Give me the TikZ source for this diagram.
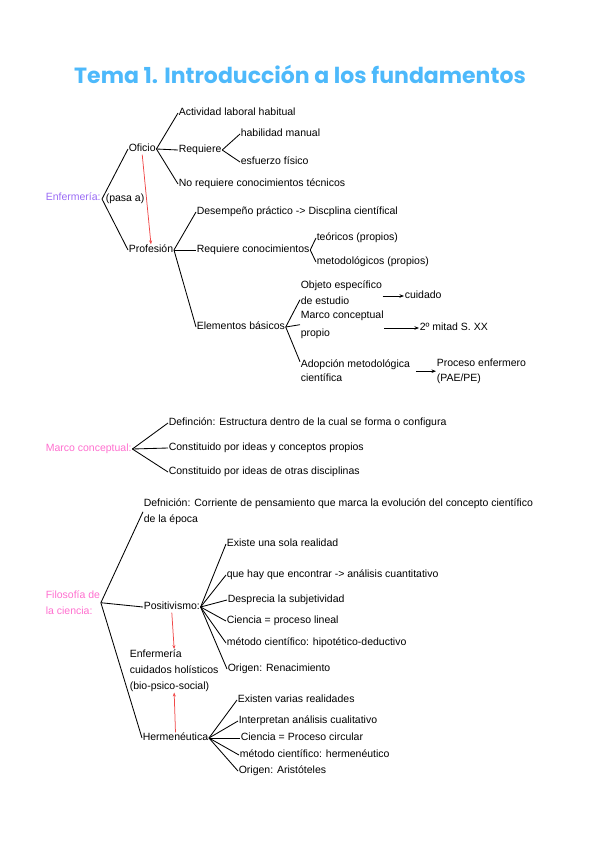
\documentclass[tikz,border=0pt]{standalone}
\usepackage{fontspec}
\setmainfont{Liberation Sans}
\newfontfamily\titlefont{Poppins}
\usetikzlibrary{arrows.meta}
\definecolor{titleblue}{HTML}{4DB9FB}
\definecolor{purp}{HTML}{9A6BF5}
\definecolor{pinkc}{HTML}{FF6FCF}
\definecolor{redc}{HTML}{F04848}
\begin{document}
\begin{tikzpicture}[x=1pt,y=-1pt,
  t/.style={anchor=west, inner sep=0.6pt, font=\fontsize{10.5}{16}\selectfont, text height=7.5pt, text depth=2.3pt},
  tm/.style={anchor=north west, inner sep=0.6pt, align=left, font=\fontsize{10.5}{16}\selectfont},
  br/.style={line width=0.85pt, black},
  arr/.style={line width=0.85pt, black, -{Stealth[length=4.5pt,width=3.5pt]}},
  redarr/.style={line width=0.75pt, redc, -{Stealth[length=4pt,width=3pt]}}
]
\useasboundingbox (0,0) rectangle (600,848);

% title
\node[font=\titlefont\bfseries\fontsize{22}{26}\selectfont, text=titleblue] (title) at (300,74) {Tema 1. Introducción a los fundamentos};

% ---------- Enfermería ----------
\node[t, text=purp] (enf) at (45,198) {Enfermería:};
\node[t] (pasa) at (105,199) {(pasa a)};
\coordinate (enfv) at (102,199);
\node[t] (oficio) at (128,149) {Oficio};
\node[t] (prof) at (128,250) {Profesión};
\draw[br] (enfv) -- (oficio.west);
\draw[br] (enfv) -- (prof.west);
\draw[redarr] (oficio.south) -- (prof.north);

\node[t] (act) at (178,113) {Actividad laboral habitual};
\node[t] (req) at (178,150) {Requiere};
\node[t] (noreq) at (178,184) {No requiere conocimientos técnicos};
\draw[br] (oficio.east) -- (act.west);
\draw[br] (oficio.east) -- (req.west);
\draw[br] (oficio.east) -- (noreq.west);

\node[t] (hab) at (240,134) {habilidad manual};
\node[t] (esf) at (240,162) {esfuerzo físico};
\draw[br] (req.east) -- (hab.west);
\draw[br] (req.east) -- (esf.west);

\node[t] (des) at (196,212) {Desempeño práctico -> Discplina científical};
\node[t] (reqc) at (196,250) {Requiere conocimientos};
\node[t] (elem) at (196,327) {Elementos básicos};
\draw[br] (prof.east) -- (des.west);
\draw[br] (prof.east) -- (reqc.west);
\draw[br] (prof.east) -- (elem.west);

\node[t] (teo) at (316,238) {teóricos (propios)};
\node[t] (met) at (316,262) {metodológicos (propios)};
\draw[br] (reqc.east) -- (teo.west);
\draw[br] (reqc.east) -- (met.west);

\node[tm] (obj) at (300,280) {Objeto específico\\de estudio};
\node[tm] (marco) at (300,310) {Marco conceptual\\[2pt]propio};
\node[tm] (adop) at (300,359) {Adopción metodológica\\[-2pt]científica};
\draw[br] (elem.east) -- ([yshift=-7pt]obj.west);
\draw[br] (elem.east) -- (marco.west);
\draw[br] (elem.east) -- ([yshift=9pt]adop.west);

\node[t] (cuid) at (404,296) {cuidado};
\node[t] (mitad) at (419,328) {2º mitad S. XX};
\node[tm] (proc) at (436,358) {Proceso enfermero\\[-1pt](PAE/PE)};
\draw[arr] (obj.east |- cuid.west) -- (cuid.west);
\draw[arr] (marco.east |- mitad.west) -- (mitad.west);
\draw[arr] ([xshift=5pt]adop.east |- proc.west) -- (proc.west);

% ---------- Marco conceptual ----------
\node[t, text=pinkc] (mc) at (45,449) {Marco conceptual:};
\node[t] (mdef) at (168,423) {Definción: Estructura dentro de la cual se forma o configura};
\node[t] (mc1) at (168,448) {Constituido por ideas y conceptos propios};
\node[t] (mc2) at (168,472) {Constituido por ideas de otras disciplinas};
\draw[br] (mc.east) -- (mdef.west);
\draw[br] (mc.east) -- (mc1.west);
\draw[br] (mc.east) -- (mc2.west);

% ---------- Filosofía de la ciencia ----------
\node[tm, text=pinkc] (fil) at (45,590) {Filosofía de\\la ciencia:};
\node[tm] (fdef) at (143,498) {Defnición: Corriente de pensamiento que marca la evolución del concepto científico\\de la época};
\node[t] (pos) at (143,607) {Positivismo:};
\node[t] (herm) at (142,738) {Hermenéutica};
\draw[br] (fil.east) -- (fdef.west);
\draw[br] (fil.east) -- (pos.west);
\draw[br] (fil.east) -- (herm.west);

\node[t] (p1) at (226,544) {Existe una sola realidad};
\node[t] (p2) at (226,575) {que hay que encontrar -> análisis cuantitativo};
\node[t] (p3) at (227,600) {Desprecia la subjetividad};
\node[t] (p4) at (226,621) {Ciencia = proceso lineal};
\node[t] (p5) at (226,643) {método científico: hipotético-deductivo};
\node[t] (p6) at (227,669) {Origen: Renacimiento};
\foreach \n in {p1,p2,p3,p4,p5,p6} \draw[br] (pos.east) -- (\n.west);

\node[tm] (enfh) at (129,649) {Enfermería\\cuidados holísticos\\(bio-psico-social)};
\draw[redarr] (pos.south) -- (enfh.north);
\draw[redarr] (herm.north) -- (enfh.south);

\node[t] (h1) at (237,700) {Existen varias realidades};
\node[t] (h2) at (238,721) {Interpretan análisis cualitativo};
\node[t] (h3) at (240,738) {Ciencia = Proceso circular};
\node[t] (h4) at (239,755) {método científico: hermenéutico};
\node[t] (h5) at (238,771) {Origen: Aristóteles};
\foreach \n in {h1,h2,h3,h4,h5} \draw[br] (herm.east) -- (\n.west);
\end{tikzpicture}
\end{document}
